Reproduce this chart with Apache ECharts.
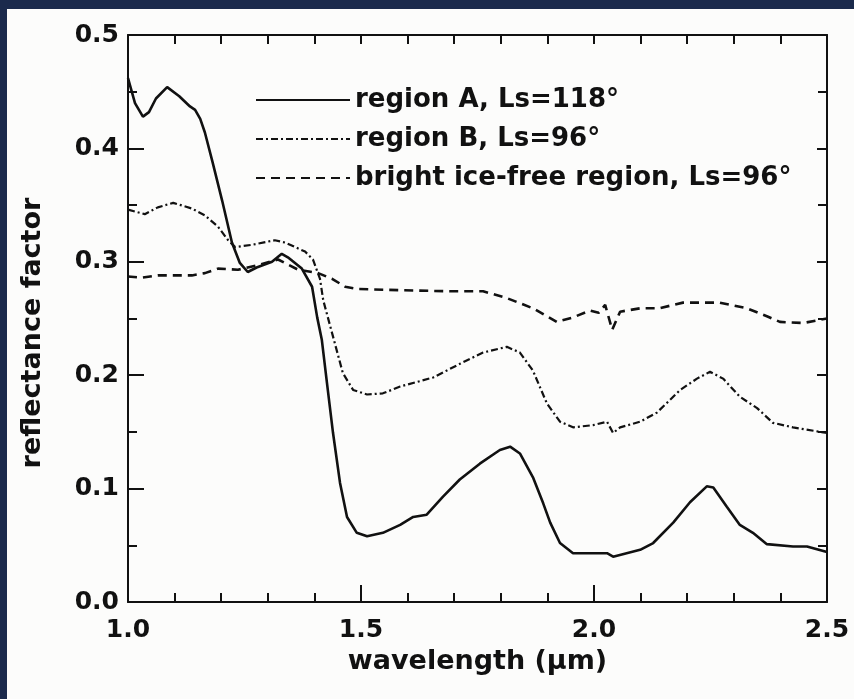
<!DOCTYPE html>
<html>
<head>
<meta charset="utf-8">
<script src="https://cdn.jsdelivr.net/npm/echarts@6/dist/echarts.min.js"></script>
<style>
html,body{margin:0;padding:0;background:#1b2a4c;}
#chart{width:854px;height:699px;}
</style>
</head>
<body>
<div id="chart"></div>
<script>
// ---- data ----
var seriesNames = ['region A, Ls=118°', 'region B, Ls=96°', 'bright ice-free region, Ls=96°'];

var wavelengthA = [1.000,1.015,1.032,1.045,1.060,1.084,1.110,1.133,1.144,1.155,1.165,1.182,1.202,1.223,1.240,1.257,1.276,1.309,1.330,1.343,1.373,1.395,1.406,1.416,1.427,1.440,1.455,1.470,1.491,1.513,1.547,1.584,1.612,1.641,1.676,1.712,1.755,1.798,1.820,1.841,1.869,1.891,1.906,1.927,1.955,2.028,2.041,2.099,2.127,2.170,2.206,2.242,2.256,2.285,2.313,2.341,2.371,2.427,2.457,2.500];
var reflectA    = [0.462,0.440,0.428,0.432,0.444,0.454,0.446,0.437,0.434,0.426,0.414,0.387,0.354,0.317,0.299,0.291,0.295,0.300,0.307,0.304,0.294,0.278,0.251,0.231,0.193,0.149,0.105,0.075,0.061,0.058,0.061,0.068,0.075,0.077,0.093,0.108,0.122,0.134,0.137,0.131,0.110,0.087,0.070,0.052,0.043,0.043,0.040,0.046,0.052,0.070,0.088,0.102,0.101,0.084,0.068,0.061,0.051,0.049,0.049,0.044];

var wavelengthB = [1.000,1.036,1.064,1.097,1.137,1.165,1.193,1.215,1.230,1.266,1.315,1.337,1.380,1.397,1.412,1.419,1.440,1.461,1.483,1.513,1.547,1.584,1.655,1.712,1.762,1.813,1.841,1.869,1.899,1.927,1.955,1.998,2.028,2.041,2.056,2.099,2.135,2.185,2.221,2.249,2.277,2.313,2.350,2.384,2.427,2.500];
var reflectB    = [0.346,0.342,0.348,0.352,0.347,0.341,0.331,0.319,0.313,0.315,0.319,0.317,0.309,0.302,0.285,0.266,0.234,0.202,0.187,0.183,0.184,0.190,0.198,0.210,0.220,0.225,0.220,0.204,0.175,0.159,0.154,0.156,0.159,0.149,0.154,0.159,0.167,0.187,0.197,0.203,0.197,0.181,0.171,0.158,0.154,0.149];

var wavelengthC = [1.000,1.030,1.064,1.137,1.165,1.193,1.236,1.279,1.322,1.365,1.408,1.438,1.466,1.494,1.584,1.691,1.762,1.813,1.869,1.920,1.955,1.991,2.010,2.024,2.039,2.056,2.099,2.140,2.191,2.270,2.328,2.371,2.399,2.449,2.500];
var reflectC    = [0.287,0.286,0.288,0.288,0.290,0.294,0.293,0.297,0.302,0.293,0.290,0.285,0.278,0.276,0.275,0.274,0.274,0.268,0.259,0.247,0.251,0.257,0.255,0.262,0.240,0.256,0.259,0.259,0.264,0.264,0.259,0.252,0.247,0.246,0.250];

var xTickLabels = ['1.0','1.5','2.0','2.5'];
var yTickLabels = ['0.0','0.1','0.2','0.3','0.4','0.5'];
var xAxisTitle = 'wavelength (µm)';
var yAxisTitle = 'reflectance factor';

function pairs(xs, ys){ return xs.map(function(x,i){ return [x, ys[i]]; }); }

var FONT = '"DejaVu Sans", sans-serif';
var INK = '#111111';

var chart = echarts.init(document.getElementById('chart'), null, {renderer:'canvas'});

function xLabel(v){ var i = Math.round((v-1.0)/0.5); return xTickLabels[i] !== undefined ? xTickLabels[i] : ''; }
function yLabel(v){ var i = Math.round(v/0.1); return yTickLabels[i] !== undefined ? yTickLabels[i] : ''; }

var axisLine = {show:true, onZero:false, lineStyle:{color:INK, width:2}};

var option = {
  backgroundColor:'#1b2a4c',
  animation:false,
  graphic:[
    {type:'rect', left:7, top:9, z:-10, shape:{width:847, height:690}, style:{fill:'#fcfcfb'}},
    {type:'text', x:33, y:333, rotation:Math.PI/2, z:10,
     style:{text:yAxisTitle, font:'bold 27px ' + FONT, fill:INK, textAlign:'center', textVerticalAlign:'middle'}}
  ],
  grid:{left:128, right:27, top:35, bottom:97, containLabel:false},
  legend:{
    show:true, orient:'vertical', left:250, top:82,
    itemWidth:94, itemHeight:14, itemGap:13,
    itemStyle:{color:'transparent', borderColor:'transparent', borderWidth:0, opacity:0},
    textStyle:{fontFamily:FONT, fontWeight:'bold', fontSize:26, color:INK, lineHeight:26},
    data:seriesNames
  },
  xAxis:[
    {type:'value', position:'bottom', min:1.0, max:2.5, interval:0.5,
     axisLine:axisLine,
     axisTick:{show:true, inside:true, length:17, lineStyle:{color:INK, width:2}},
     minorTick:{show:true, splitNumber:5, length:9, lineStyle:{color:INK, width:2}},
     splitLine:{show:false}, minorSplitLine:{show:false},
     axisLabel:{show:true, margin:16, formatter:xLabel, fontFamily:FONT, fontWeight:'bold', fontSize:25, color:INK},
     name:xAxisTitle, nameLocation:'middle', nameGap:46,
     nameTextStyle:{fontFamily:FONT, fontWeight:'bold', fontSize:27, color:INK}},
    {type:'value', position:'top', min:1.0, max:2.5, interval:0.5,
     axisLine:axisLine,
     axisTick:{show:true, inside:true, length:9, lineStyle:{color:INK, width:2}},
     minorTick:{show:true, splitNumber:5, length:9, lineStyle:{color:INK, width:2}},
     splitLine:{show:false}, axisLabel:{show:false}}
  ],
  yAxis:[
    {type:'value', position:'left', min:0, max:0.5, interval:0.1,
     axisLine:axisLine,
     axisTick:{show:true, inside:true, length:16, lineStyle:{color:INK, width:2}},
     minorTick:{show:true, splitNumber:2, length:9, lineStyle:{color:INK, width:2}},
     splitLine:{show:false}, minorSplitLine:{show:false},
     axisLabel:{show:true, margin:9, formatter:yLabel, fontFamily:FONT, fontWeight:'bold', fontSize:25, color:INK}},
    {type:'value', position:'right', min:0, max:0.5, interval:0.1,
     axisLine:axisLine,
     axisTick:{show:true, inside:true, length:10, lineStyle:{color:INK, width:2}},
     minorTick:{show:true, splitNumber:2, length:9, lineStyle:{color:INK, width:2}},
     splitLine:{show:false}, axisLabel:{show:false}}
  ],
  series:[
    {name:seriesNames[0], type:'line', xAxisIndex:0, yAxisIndex:0, symbol:'none', smooth:false,
     data:pairs(wavelengthA, reflectA),
     lineStyle:{color:INK, width:2.6, type:'solid'}, itemStyle:{color:INK}},
    {name:seriesNames[1], type:'line', xAxisIndex:0, yAxisIndex:0, symbol:'none', smooth:false,
     data:pairs(wavelengthB, reflectB),
     lineStyle:{color:INK, width:2.2, type:[7,3,2,3]}, itemStyle:{color:INK}},
    {name:seriesNames[2], type:'line', xAxisIndex:0, yAxisIndex:0, symbol:'none', smooth:false,
     data:pairs(wavelengthC, reflectC),
     lineStyle:{color:INK, width:2.6, type:[9,6]}, itemStyle:{color:INK}}
  ]
};
chart.setOption(option);
</script>
</body>
</html>
